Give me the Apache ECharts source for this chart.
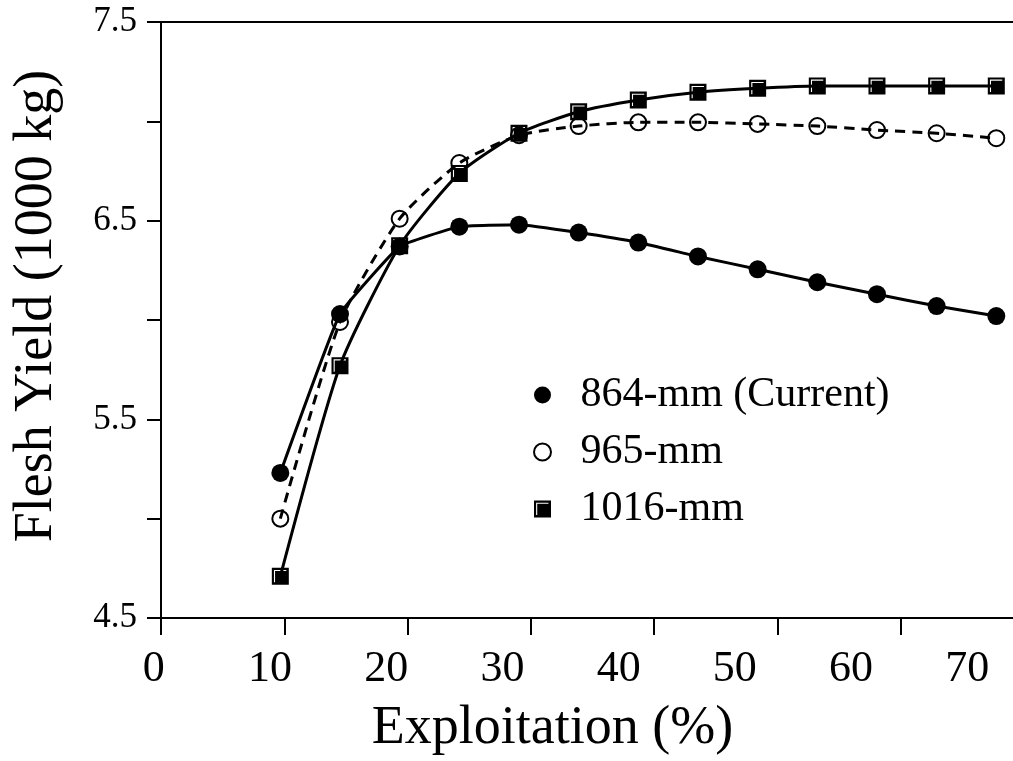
<!DOCTYPE html>
<html>
<head>
<meta charset="utf-8">
<script src="https://cdn.jsdelivr.net/npm/echarts@6/dist/echarts.min.js"></script>
<style>
  html, body { margin: 0; padding: 0; background: #ffffff; }
  #chart { width: 1013px; height: 761px; }
</style>
</head>
<body>
<div id="chart"></div>
<script>
// Exploitation rate (%) at which each size limit was evaluated
const exploitation = [10, 15, 20, 25, 30, 35, 40, 45, 50, 55, 60, 65, 70];

// Flesh yield (1000 kg) for each minimum size
const yield864 = [5.23, 6.03, 6.37, 6.47, 6.48, 6.44, 6.39, 6.32, 6.255, 6.19, 6.13, 6.07, 6.02];
const yield965 = [5.00, 5.99, 6.51, 6.79, 6.93, 6.976, 6.995, 6.995, 6.987, 6.976, 6.956, 6.94, 6.915];
const yield1016 = [4.71, 5.77, 6.374, 6.738, 6.94, 7.048, 7.107, 7.146, 7.166, 7.178, 7.178, 7.178, 7.178];

const seriesNames = ['864-mm (Current)', '965-mm', '1016-mm'];

// Axis tick values and labels
const xTickValues = [0, 10, 20, 30, 40, 50, 60];
const xTickLabels = ['0', '10', '20', '30', '40', '50', '60', '70'];
const yLabelValues = [4.5, 5.5, 6.5, 7.5];

const FONT = '"Liberation Serif", "Times New Roman", Times, serif';
const INK = '#000000';

// Filled square with a thin white bevel along its top and left edges
const bevelSquare = 'path://M0,0L20,0L20,20L0,20Z M2.5,2.5L2.5,17L3.8,17L3.8,3.8L17,3.8L17,2.5Z';

function pairs(ys) {
  return exploitation.map((x, i) => [x, ys[i]]);
}

const chart = echarts.init(document.getElementById('chart'), null, { renderer: 'canvas' });

chart.setOption({
  backgroundColor: '#ffffff',
  animation: false,
  textStyle: { fontFamily: FONT, color: INK },
  grid: [
    { left: 161, right: 0, top: 22, bottom: 143, containLabel: false },
    { left: 153.8, width: 813.5, top: 22, bottom: 143, containLabel: false }
  ],
  xAxis: [
    // scale the data is plotted against
    { gridIndex: 0, type: 'value', min: 0, max: 71.4, show: false },
    // bottom axis line with its tick marks
    {
      gridIndex: 0, type: 'value', position: 'bottom', min: 0, max: 69.1,
      axisLine: { show: true, onZero: false, lineStyle: { color: INK, width: 2 } },
      axisTick: { show: true, inside: false, length: 17, customValues: xTickValues,
                  lineStyle: { color: INK, width: 2 } },
      axisLabel: { show: false },
      splitLine: { show: false }
    },
    // top frame line
    {
      gridIndex: 0, type: 'value', position: 'top', min: 0, max: 1,
      axisLine: { show: true, onZero: false, lineStyle: { color: INK, width: 2 } },
      axisTick: { show: false }, axisLabel: { show: false }, splitLine: { show: false }
    },
    // tick labels and axis title
    {
      gridIndex: 1, type: 'category', data: xTickLabels, boundaryGap: false, position: 'bottom',
      axisLine: { show: false }, axisTick: { show: false }, splitLine: { show: false },
      axisLabel: { interval: 0, fontSize: 44, fontFamily: FONT, color: INK, margin: 30 },
      name: 'Exploitation (%)', nameLocation: 'middle', nameGap: 85,
      nameTextStyle: { fontSize: 54, fontFamily: FONT, color: INK, padding: [0, 16, 0, 0] }
    }
  ],
  yAxis: [
    {
      gridIndex: 0, type: 'value', min: 4.5, max: 7.5, interval: 0.5,
      axisLine: { show: true, onZero: false, lineStyle: { color: INK, width: 2 } },
      axisTick: { show: true, inside: false, length: 14, lineStyle: { color: INK, width: 2 } },
      axisLabel: { customValues: yLabelValues, fontSize: 35, fontFamily: FONT, color: INK,
                   margin: 24, formatter: v => v.toFixed(1) },
      splitLine: { show: false },
      name: 'Flesh Yield (1000 kg)', nameLocation: 'middle', nameGap: 97,
      nameTextStyle: { fontSize: 54, fontFamily: FONT, color: INK, padding: [0, 0, 0, 28] }
    },
    { gridIndex: 1, type: 'value', min: 0, max: 1, show: false }
  ],
  legend: {
    orient: 'vertical',
    left: 528,
    top: 369,
    itemWidth: 66,
    itemHeight: 17,
    itemGap: 15,
    selectedMode: false,
    textStyle: { fontSize: 42, fontFamily: FONT, color: INK, lineHeight: 42 },
    data: [
      { name: seriesNames[0], icon: 'circle', itemStyle: { color: INK, borderWidth: 0 } },
      { name: seriesNames[1], icon: 'circle',
        itemStyle: { color: '#ffffff', borderColor: INK, borderWidth: 2 } },
      { name: seriesNames[2], icon: bevelSquare, itemStyle: { color: INK, borderWidth: 0 } }
    ]
  },
  series: [
    {
      name: seriesNames[1], type: 'line', xAxisIndex: 0, yAxisIndex: 0,
      data: pairs(yield965), smooth: 0.2,
      symbol: 'circle', symbolSize: 16,
      itemStyle: { color: 'rgba(0,0,0,0)', borderColor: INK, borderWidth: 2 },
      lineStyle: { color: INK, width: 3, type: [10, 7] },
      emphasis: { disabled: true }
    },
    {
      name: seriesNames[0], type: 'line', xAxisIndex: 0, yAxisIndex: 0,
      data: pairs(yield864), smooth: 0.1,
      symbol: 'circle', symbolSize: 18,
      itemStyle: { color: INK, borderWidth: 0 },
      lineStyle: { color: INK, width: 3 },
      emphasis: { disabled: true }
    },
    {
      name: seriesNames[2], type: 'line', xAxisIndex: 0, yAxisIndex: 0,
      data: pairs(yield1016), smooth: 0.2,
      symbol: bevelSquare, symbolSize: 17,
      itemStyle: { color: INK, borderWidth: 0 },
      lineStyle: { color: INK, width: 3 },
      emphasis: { disabled: true }
    }
  ]
});
</script>
</body>
</html>
